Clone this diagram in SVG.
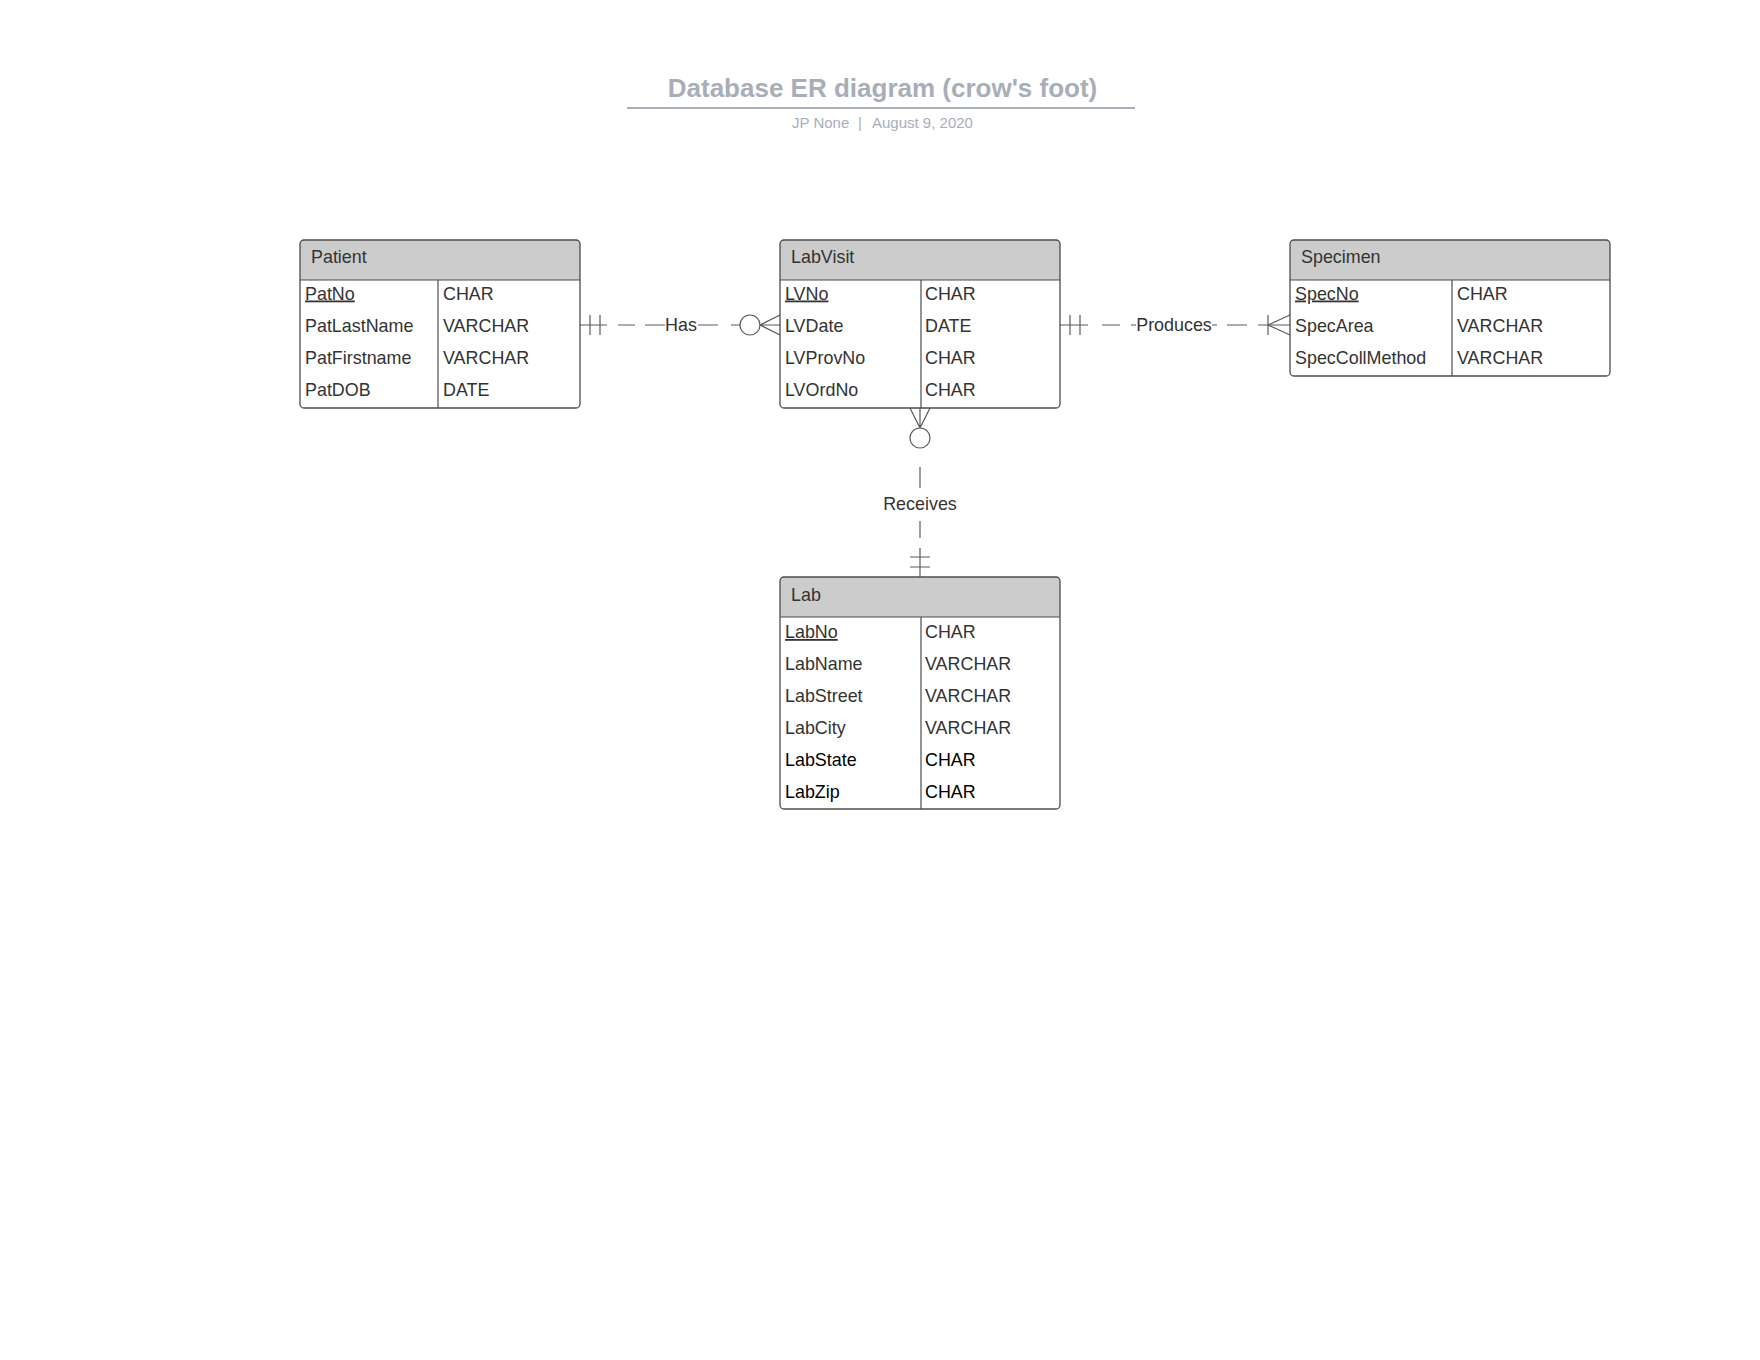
<svg xmlns="http://www.w3.org/2000/svg" width="1760" height="1360" viewBox="0 0 1760 1360">
  <style>
    .t{font-family:"Liberation Sans",Arial,sans-serif;font-size:17.9px;fill:#333}
    .dk{fill:#000}
    .pk{text-decoration:underline}
    .hd{fill:#cccccc}
    .sep{fill:none;stroke:#4d4d4d;stroke-width:1.2}
    .box{fill:none;stroke:#4d4d4d;stroke-width:1.3}
    .bg{fill:#ffffff}
    .ln{fill:none;stroke:#5a5a5a;stroke-width:1.2}
    .ring{fill:#ffffff;stroke:#5a5a5a;stroke-width:1.2}
    .mid{text-anchor:middle}
    .ttl{font-family:"Liberation Sans",Arial,sans-serif;font-weight:bold;font-size:26px;fill:#a8aeb8}
    .sub{font-family:"Liberation Sans",Arial,sans-serif;font-size:15px;fill:#a8aeb8}
  </style>

  <rect width="1760" height="1360" fill="#ffffff"/>

  <!-- title block -->
  <g id="title">
    <text class="ttl mid" x="882.5" y="97">Database ER diagram (crow's foot)</text>
    <path d="M627 108H1135" stroke="#a8aeb8" stroke-width="2"/>
    <text class="sub" x="792" y="128">JP None</text>
    <text class="sub" x="858" y="128">|</text>
    <text class="sub" x="872" y="128">August 9, 2020</text>
  </g>

  <!-- relationships -->
  <g id="connectors">
    <!-- Patient ||——Has——o< LabVisit -->
    <g id="rel-has">
      <path class="ln" d="M580 325H607M618 325H635M645 325H665M698 325H718M731 325H740"/>
      <path class="ln" d="M590 315V335M600 315V335"/>
      <circle class="ring" cx="750" cy="325" r="10"/>
      <path class="ln" d="M760 325L780 315M760 325H780M760 325L780 335"/>
      <text class="t mid" x="681" y="331">Has</text>
    </g>
    <!-- LabVisit ||——Produces——|< Specimen -->
    <g id="rel-produces">
      <path class="ln" d="M1060 325H1088M1102 325H1120M1131 325H1136M1212 325H1217M1227 325H1247M1258 325H1290"/>
      <path class="ln" d="M1070 315V335M1080 315V335"/>
      <path class="ln" d="M1268 315V335M1268 325L1290 315M1268 325L1290 335"/>
      <text class="t mid" x="1174" y="331">Produces</text>
    </g>
    <!-- LabVisit >o——Receives——|| Lab -->
    <g id="rel-receives">
      <path class="ln" d="M910 408L920 428M930 408L920 428M920 408V428"/>
      <circle class="ring" cx="920" cy="438" r="10"/>
      <path class="ln" d="M920 467V488M920 521V538M920 548V577"/>
      <path class="ln" d="M910 557H930M910 567H930"/>
      <text class="t mid" x="920" y="510">Receives</text>
    </g>
  </g>

  <!-- Patient -->
  <g id="patient">
    <rect class="bg" x="300" y="240" width="280" height="168" rx="4"/>
    <path class="hd" d="M300 280V244Q300 240 304 240H576Q580 240 580 244V280Z"/>
    <path class="sep" d="M300 280H580M438 280V408"/>
    <rect class="box" x="300" y="240" width="280" height="168" rx="4"/>
    <text class="t" x="311" y="263">Patient</text>
    <text class="t pk" x="305" y="299.5">PatNo</text>
    <text class="t" x="305" y="331.5">PatLastName</text>
    <text class="t" x="305" y="363.5">PatFirstname</text>
    <text class="t" x="305" y="395.5">PatDOB</text>
    <text class="t" x="443" y="299.5">CHAR</text>
    <text class="t" x="443" y="331.5">VARCHAR</text>
    <text class="t" x="443" y="363.5">VARCHAR</text>
    <text class="t" x="443" y="395.5">DATE</text>
  </g>

  <!-- LabVisit -->
  <g id="labvisit">
    <rect class="bg" x="780" y="240" width="280" height="168" rx="4"/>
    <path class="hd" d="M780 280V244Q780 240 784 240H1056Q1060 240 1060 244V280Z"/>
    <path class="sep" d="M780 280H1060M921 280V408"/>
    <rect class="box" x="780" y="240" width="280" height="168" rx="4"/>
    <text class="t" x="791" y="263">LabVisit</text>
    <text class="t pk" x="785" y="299.5">LVNo</text>
    <text class="t" x="785" y="331.5">LVDate</text>
    <text class="t" x="785" y="363.5">LVProvNo</text>
    <text class="t" x="785" y="395.5">LVOrdNo</text>
    <text class="t" x="925" y="299.5">CHAR</text>
    <text class="t" x="925" y="331.5">DATE</text>
    <text class="t" x="925" y="363.5">CHAR</text>
    <text class="t" x="925" y="395.5">CHAR</text>
  </g>

  <!-- Specimen -->
  <g id="specimen">
    <rect class="bg" x="1290" y="240" width="320" height="136" rx="4"/>
    <path class="hd" d="M1290 280V244Q1290 240 1294 240H1606Q1610 240 1610 244V280Z"/>
    <path class="sep" d="M1290 280H1610M1452 280V376"/>
    <rect class="box" x="1290" y="240" width="320" height="136" rx="4"/>
    <text class="t" x="1301" y="263">Specimen</text>
    <text class="t pk" x="1295" y="299.5">SpecNo</text>
    <text class="t" x="1295" y="331.5">SpecArea</text>
    <text class="t" x="1295" y="363.5">SpecCollMethod</text>
    <text class="t" x="1457" y="299.5">CHAR</text>
    <text class="t" x="1457" y="331.5">VARCHAR</text>
    <text class="t" x="1457" y="363.5">VARCHAR</text>
  </g>

  <!-- Lab -->
  <g id="lab">
    <rect class="bg" x="780" y="577" width="280" height="232" rx="4"/>
    <path class="hd" d="M780 617V581Q780 577 784 577H1056Q1060 577 1060 581V617Z"/>
    <path class="sep" d="M780 617H1060M921 617V809"/>
    <rect class="box" x="780" y="577" width="280" height="232" rx="4"/>
    <text class="t" x="791" y="601">Lab</text>
    <text class="t pk" x="785" y="638">LabNo</text>
    <text class="t" x="785" y="670">LabName</text>
    <text class="t" x="785" y="702">LabStreet</text>
    <text class="t" x="785" y="734">LabCity</text>
    <text class="t dk" x="785" y="766">LabState</text>
    <text class="t dk" x="785" y="798">LabZip</text>
    <text class="t" x="925" y="638">CHAR</text>
    <text class="t" x="925" y="670">VARCHAR</text>
    <text class="t" x="925" y="702">VARCHAR</text>
    <text class="t" x="925" y="734">VARCHAR</text>
    <text class="t dk" x="925" y="766">CHAR</text>
    <text class="t dk" x="925" y="798">CHAR</text>
  </g>
</svg>
